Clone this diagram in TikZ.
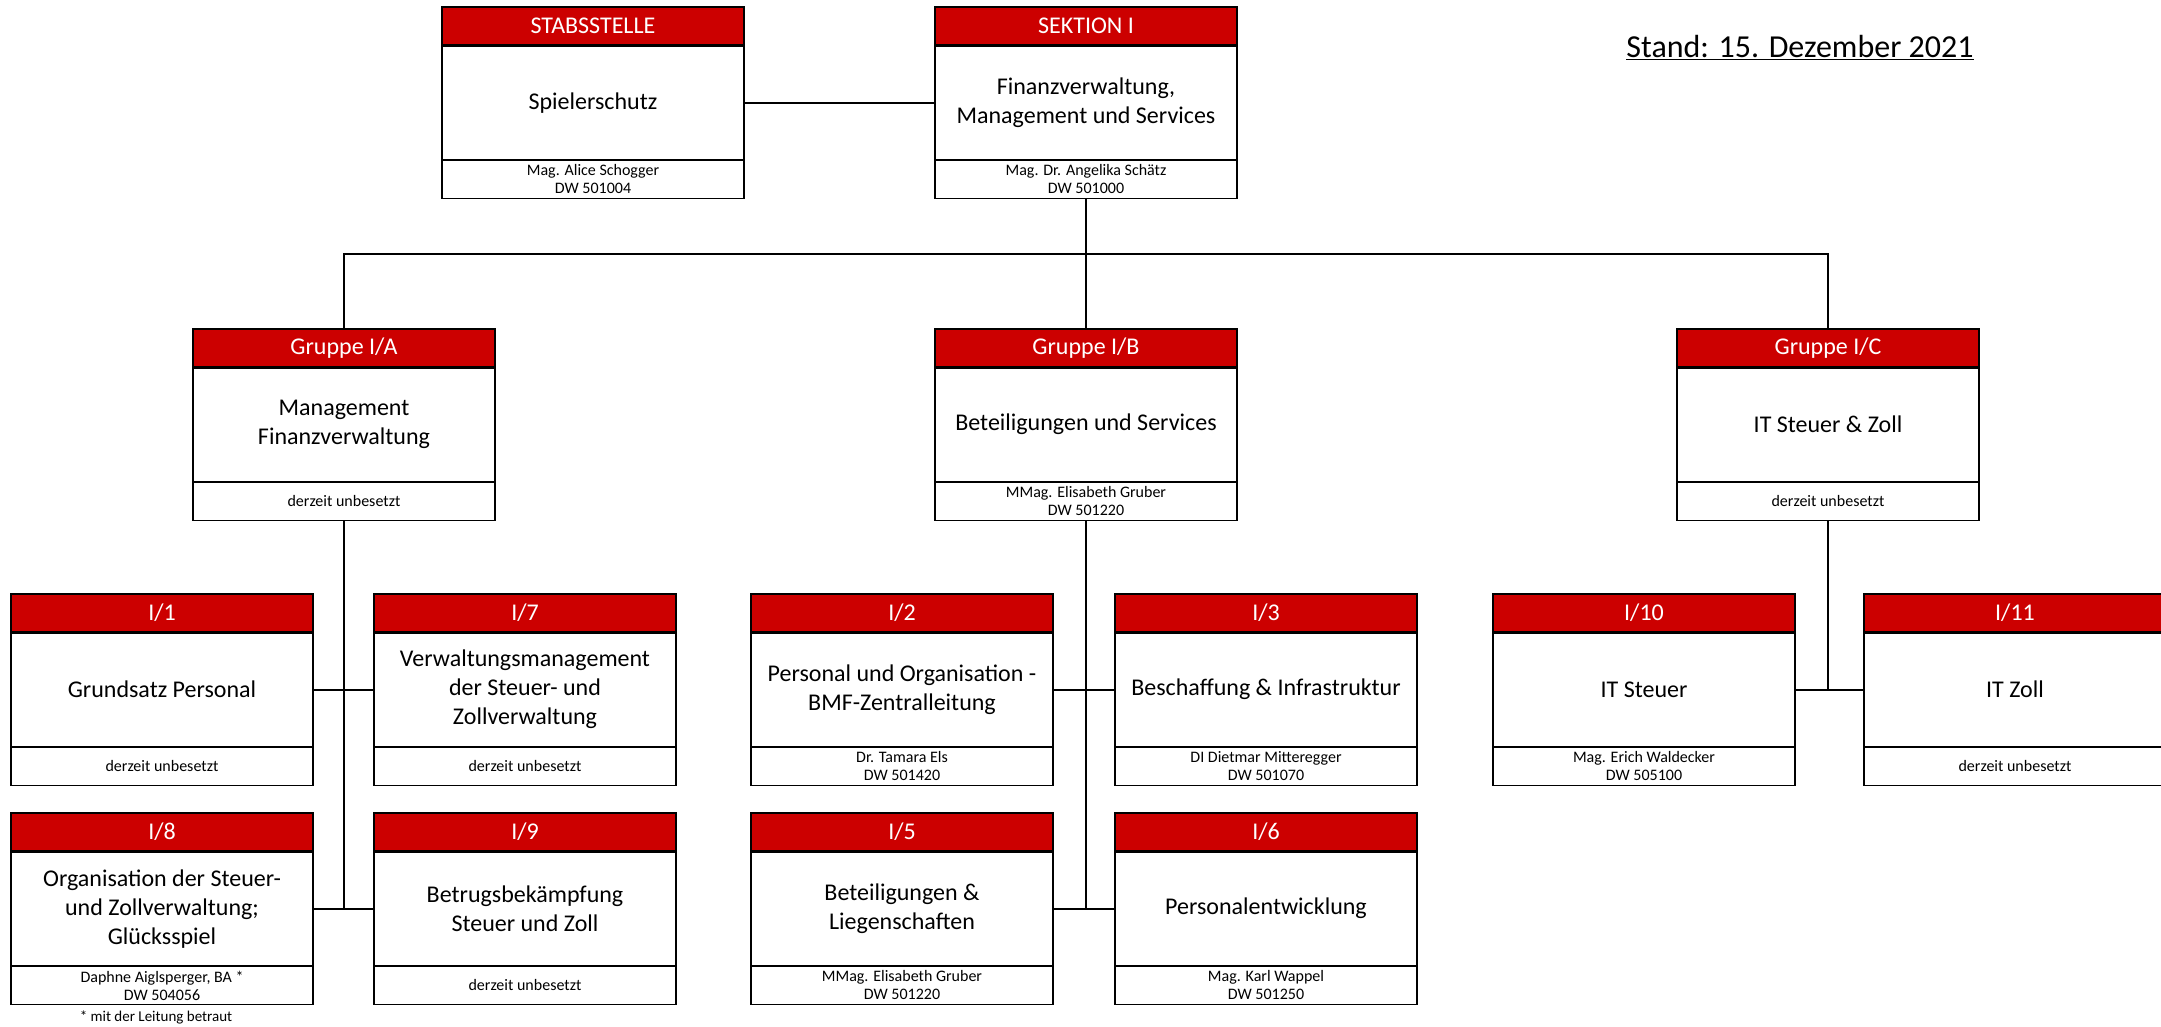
\documentclass[tikz,border=0pt]{standalone}
\usepackage{fontspec}
\setmainfont{Carlito}
\usepackage{tikz}
\usetikzlibrary{positioning}
\definecolor{white}{RGB}{255,255,255}
\definecolor{black}{RGB}{0,0,0}
\definecolor{dark_red}{RGB}{204,0,0}

\tikzset{
	headbox/.style={draw=black,line width=1.2pt,fill=dark_red,text=white,minimum width=302pt,minimum height=38pt,inner sep=0pt,font=\fontsize{24}{28}\selectfont},
	bodybox/.style={draw=black,line width=1.2pt,fill=white,minimum width=302pt,minimum height=113pt,inner sep=0pt,align=center,font=\fontsize{24}{29}\selectfont},
	footbox/.style={draw=black,line width=1.2pt,fill=white,minimum width=302pt,minimum height=38pt,inner sep=0pt,align=center,font=\fontsize{16}{18}\selectfont},
	link/.style={black,line width=2pt}
}

\begin{document}
\begin{tikzpicture}[x=1pt,y=-1pt]
	\useasboundingbox (0,0) rectangle (2161,1027);

	% Sektion
	\node[headbox] (stabh) at (593,26) {STABSSTELLE};
	\node[bodybox,below=0pt of stabh] (stabb) {Spielerschutz};
	\node[footbox,below=0pt of stabb] (stabf) {Mag. Alice Schogger\\DW 501004};
	\node[headbox] (sekh) at (1086,26) {SEKTION I};
	\node[bodybox,below=0pt of sekh] (sekb) {Finanzverwaltung,\\Management und Services};
	\node[footbox,below=0pt of sekb] (sekf) {Mag. Dr. Angelika Schätz\\DW 501000};
	\node[font=\fontsize{32}{38}\selectfont] (stand) at (1800,48) {\underline{Stand: 15. Dezember 2021}};

	% Gruppen
	\node[headbox] (gah) at (344,348) {Gruppe I/A};
	\node[bodybox,below=0pt of gah] (gab) {Management\\Finanzverwaltung};
	\node[footbox,below=0pt of gab] (gaf) {derzeit unbesetzt};
	\node[headbox] (gbh) at (1086,348) {Gruppe I/B};
	\node[bodybox,below=0pt of gbh] (gbb) {Beteiligungen und Services};
	\node[footbox,below=0pt of gbb] (gbf) {MMag. Elisabeth Gruber\\DW 501220};
	\node[headbox] (gch) at (1828,348) {Gruppe I/C};
	\node[bodybox,below=0pt of gch] (gcb) {IT Steuer \& Zoll};
	\node[footbox,below=0pt of gcb] (gcf) {derzeit unbesetzt};

	% Abteilungen
	\node[headbox] (i1h) at (162,613) {I/1};
	\node[bodybox,below=0pt of i1h] (i1b) {Grundsatz Personal};
	\node[footbox,below=0pt of i1b] (i1f) {derzeit unbesetzt};
	\node[headbox] (i7h) at (525,613) {I/7};
	\node[bodybox,below=0pt of i7h] (i7b) {Verwaltungsmanagement\\der Steuer- und\\Zollverwaltung};
	\node[footbox,below=0pt of i7b] (i7f) {derzeit unbesetzt};
	\node[headbox] (i8h) at (162,832) {I/8};
	\node[bodybox,below=0pt of i8h] (i8b) {Organisation der Steuer-\\und Zollverwaltung;\\Glücksspiel};
	\node[footbox,below=0pt of i8b] (i8f) {Daphne Aiglsperger, BA *\\DW 504056};
	\node[headbox] (i9h) at (525,832) {I/9};
	\node[bodybox,below=0pt of i9h] (i9b) {Betrugsbekämpfung\\Steuer und Zoll};
	\node[footbox,below=0pt of i9b] (i9f) {derzeit unbesetzt};
	\node[font=\fontsize{15}{18}\selectfont] (note) at (156,1017) {* mit der Leitung betraut};

	\node[headbox] (i2h) at (902,613) {I/2};
	\node[bodybox,below=0pt of i2h] (i2b) {Personal und Organisation -\\BMF-Zentralleitung};
	\node[footbox,below=0pt of i2b] (i2f) {Dr. Tamara Els\\DW 501420};
	\node[headbox] (i3h) at (1266,613) {I/3};
	\node[bodybox,below=0pt of i3h] (i3b) {Beschaffung \& Infrastruktur};
	\node[footbox,below=0pt of i3b] (i3f) {DI Dietmar Mitteregger\\DW 501070};
	\node[headbox] (i5h) at (902,832) {I/5};
	\node[bodybox,below=0pt of i5h] (i5b) {Beteiligungen \&\\Liegenschaften};
	\node[footbox,below=0pt of i5b] (i5f) {MMag. Elisabeth Gruber\\DW 501220};
	\node[headbox] (i6h) at (1266,832) {I/6};
	\node[bodybox,below=0pt of i6h] (i6b) {Personalentwicklung};
	\node[footbox,below=0pt of i6b] (i6f) {Mag. Karl Wappel\\DW 501250};

	\node[headbox] (i10h) at (1644,613) {I/10};
	\node[bodybox,below=0pt of i10h] (i10b) {IT Steuer};
	\node[footbox,below=0pt of i10b] (i10f) {Mag. Erich Waldecker\\DW 505100};
	\node[headbox] (i11h) at (2015,613) {I/11};
	\node[bodybox,below=0pt of i11h] (i11b) {IT Zoll};
	\node[footbox,below=0pt of i11b] (i11f) {derzeit unbesetzt};

	% Linien
	\coordinate (bus) at (0,254);
	\draw[link] (stabb.east) -- (sekb.west);
	\draw[link] (sekf.south) -- (gbh.north);
	\draw[link] (gah.north) |- (bus -| gch.north) -- (gch.north);
	\draw[link] (gaf.south) -- (gaf.south |- i8b.east);
	\draw[link] (gbf.south) -- (gbf.south |- i5b.east);
	\draw[link] (gcf.south) -- (gcf.south |- i10b.east);
	\foreach \x/\y in {i1b/i7b,i8b/i9b,i2b/i3b,i5b/i6b,i10b/i11b}
		\draw[link] (\x.east) -- (\y.west);
\end{tikzpicture}
\end{document}
